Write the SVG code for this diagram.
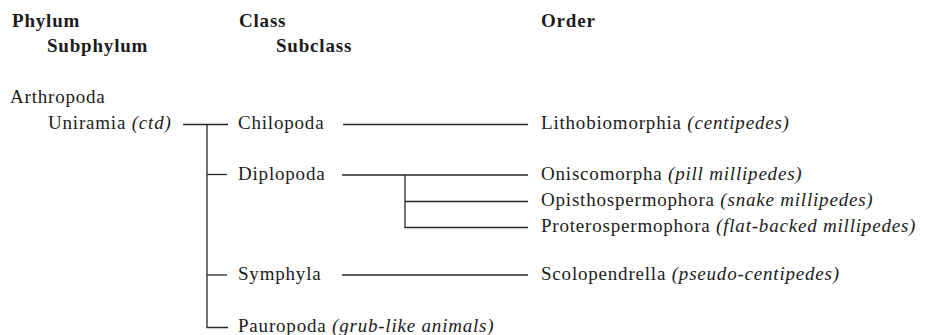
<svg xmlns="http://www.w3.org/2000/svg" width="927" height="335" viewBox="0 0 927 335">
<style>
text{font-family:"Liberation Serif","Times New Roman",serif;font-size:19px;letter-spacing:0.8px;fill:#1c1c1c}
.h{font-weight:bold}
.i{font-style:italic}
.c{stroke:#262626;stroke-width:1.3;fill:none}
</style>
<rect width="927" height="335" fill="#ffffff"/>
<g id="headers">
<text class="h" x="12" y="27">Phylum</text>
<text class="h" x="47" y="52">Subphylum</text>
<text class="h" x="239" y="27">Class</text>
<text class="h" x="276" y="52">Subclass</text>
<text class="h" x="541" y="27">Order</text>
</g>
<g id="arthropoda"><text x="10" y="103">Arthropoda</text></g>
<g id="uniramia"><text x="48" y="129">Uniramia <tspan class="i">(ctd)</tspan></text></g>
<g id="chilopoda"><text x="238" y="129">Chilopoda</text></g>
<g id="diplopoda"><text x="238" y="180">Diplopoda</text></g>
<g id="symphyla"><text x="238" y="280">Symphyla</text></g>
<g id="pauropoda"><text x="238" y="332">Pauropoda <tspan class="i">(grub-like animals)</tspan></text></g>
<g id="lithobiomorphia"><text x="541" y="129">Lithobiomorphia <tspan class="i">(centipedes)</tspan></text></g>
<g id="oniscomorpha"><text x="541" y="180">Oniscomorpha <tspan class="i">(pill millipedes)</tspan></text></g>
<g id="opisthospermophora"><text x="541" y="206">Opisthospermophora <tspan class="i">(snake millipedes)</tspan></text></g>
<g id="proterospermophora"><text x="541" y="232">Proterospermophora <tspan class="i">(flat-backed millipedes)</tspan></text></g>
<g id="scolopendrella"><text x="541" y="280">Scolopendrella <tspan class="i">(pseudo-centipedes)</tspan></text></g>
<g id="connectors" class="c">
<path d="M183 124.5H228"/>
<path d="M207 124.5V327.5H228"/>
<path d="M207 174.5H227"/>
<path d="M207 275H227"/>
<path d="M343 124.5H528"/>
<path d="M342 175H528"/>
<path d="M405 175V227.5H528"/>
<path d="M405 201.5H528"/>
<path d="M342 275H528"/>
</g>
</svg>
